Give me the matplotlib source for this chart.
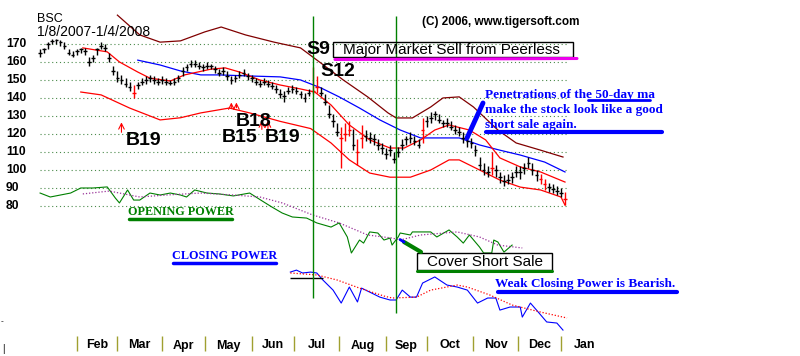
import numpy as np
import pandas as pd
import matplotlib
matplotlib.use("Agg")
import matplotlib.pyplot as plt
from matplotlib.lines import Line2D
from matplotlib.patches import Rectangle
from matplotlib.transforms import blended_transform_factory

ticker = "BSC"
periode = "1/8/2007-1/4/2008"

# Jours ouvres : l'axe x est l'index du jour (0 = 8 janv. 2007)
jours = pd.bdate_range("2007-01-08", "2008-02-29")
t_barres = np.flatnonzero(jours <= "2008-01-04")[::2]  # une barre sur deux jours

mois = ["Feb", "Mar", "Apr", "May", "Jun", "Jul", "Aug", "Sep", "Oct", "Nov", "Dec", "Jan"]
niveaux = [170, 160, 150, 140, 130, 120, 110, 100, 90, 80]

# Barres BSC (haut / bas / cloture)
clotures = [165, 167, 170, 171.5, 172, 171, 169, 165, 164, 166,
            167, 166, 160, 162, 167, 169, 168, 162, 155, 151,
            150, 148, 146, 143, 147, 149, 150, 151, 150, 149,
            150, 149, 148.5, 149, 151, 155, 157, 159, 159, 158,
            157, 158, 157.5, 156, 154, 155, 152, 150, 151, 153,
            154, 152, 151, 149, 148, 149, 148, 146.5, 145, 142,
            141, 144, 145, 144, 142, 140, 143, 144, 146, 143,
            138, 131, 127, 121, 118, 120, 122, 114, 110, 118,
            119, 118, 117, 114, 112, 109, 111, 106, 110, 114,
            117, 118, 116, 114, 122, 127, 129, 131, 128, 126,
            126, 124, 122, 121, 118, 116, 115, 111, 103, 100,
            99, 101, 100, 96, 94, 94.5, 96, 99, 99, 101,
            104, 100, 97, 95, 92, 90.5, 89.5, 88.5, 87, 84]
hauts = [167, 168, 171, 173, 173, 172, 171, 167, 166, 167,
         168, 168, 163, 164, 168, 171, 170, 165, 158, 155,
         153, 151, 149, 147, 149, 151, 152, 153, 152, 151,
         152, 151, 150, 151, 153, 157, 159, 161, 161, 160,
         159, 160, 159, 158, 156, 157, 155, 152, 153, 155,
         156, 154, 153, 151, 150, 151, 150, 149, 147, 145,
         144, 146, 147, 146, 144, 143, 145, 157, 152, 146,
         142, 136, 131, 126, 124, 126, 127, 123, 117, 125,
         122, 121, 120, 117, 115, 112, 114, 110, 113, 117,
         119, 121, 119, 117, 129, 130, 132, 133, 131, 128,
         129, 127, 125, 124, 121, 119, 118, 114, 107, 104,
         102, 110, 103, 99, 97, 98, 99, 102, 102, 104,
         107, 104, 100, 98, 95, 93, 92, 91, 90, 88]
bas = [163, 165, 167, 170, 170, 169, 167, 164, 163, 164,
       165, 164, 158, 160, 164, 167, 166, 160, 153, 149,
       148, 146, 144, 140, 145, 147, 148, 149, 148, 147,
       148, 147, 147, 147, 149, 152, 155, 157, 157, 156,
       155, 156, 156, 154, 152, 153, 150, 148, 149, 151,
       152, 150, 149, 147, 146, 147, 146, 145, 143, 140,
       138, 142, 143, 142, 140, 138, 141, 142, 143, 141,
       136, 129, 124, 119, 101, 116, 119, 111, 103, 112,
       116, 115, 114, 111, 109, 106, 108, 104, 107, 111,
       114, 115, 114, 112, 115, 124, 126, 128, 126, 124,
       124, 122, 120, 119, 115, 113, 112, 108, 100, 97,
       96, 97, 96, 93, 91, 92, 93, 96, 95, 98,
       101, 97, 94, 92, 89, 88, 87, 86, 85, 80.5]
barres_rouges = [23, 67, 68, 74, 75, 76, 78, 79, 94, 111, 123, 124, 129]

# Bande haute (marron), moyenne 21 jours (rouge), bande basse (rouge), moyenne 50 jours (bleu)
bande_haute_t = [38, 49, 59, 69, 81, 89, 101, 115, 128, 138, 149, 161, 171, 175, 183,
                 192, 198, 206, 213, 225, 234, 246, 257]
bande_haute = [186, 175, 171, 171.7, 176.7, 179.4, 175, 171, 167.8, 159.4, 150, 140.6,
               131.7, 128.9, 128.9, 135, 140, 140.6, 135, 122.2, 115, 111, 107.2]
mm21_t = [21, 33, 39, 48, 54, 64, 71, 84, 91, 98, 108, 118, 128, 135, 143, 152, 162,
          172, 179, 187, 194, 201, 211, 219, 226, 236, 246, 258]
mm21 = [167.8, 165.6, 160, 154.4, 151, 149.4, 152.8, 156, 156.7, 154.4, 150, 147.2,
        145, 143.3, 136.1, 125, 116.7, 112.2, 112.2, 116.7, 122.2, 125, 122.2, 116.7,
        106.7, 101.7, 98.9, 93.3]
bande_basse_t = [20, 30, 44, 59, 69, 79, 93, 103, 118, 133, 143, 152, 162, 172, 182,
                 192, 201, 206, 216, 226, 236, 246, 256, 258]
bande_basse = [143.3, 141.7, 134.4, 127.8, 129, 131.7, 134.4, 131.7, 127, 123, 115,
               105.6, 98.3, 96, 96, 100, 105.6, 105.6, 100, 94.4, 90.5, 88.9, 85, 80.5]
mm50_t = [48, 59, 69, 79, 88, 103, 118, 128, 138, 147, 157, 167, 177, 187, 197, 206,
          216, 226, 236, 248, 258]
mm50 = [161, 158.3, 155, 152.8, 152.8, 152.2, 151.7, 150, 145.6, 140.6, 134.4, 127.8,
        122.2, 117.8, 117.8, 117.8, 113.9, 111, 108.3, 104.4, 98.9]

# Opening Power (vert) et sa moyenne (pointilles violets)
op_t = [0, 5, 10, 15, 20, 26, 33, 37, 39, 43, 46, 49, 54, 59, 64, 69, 72, 76, 82, 88,
        95, 103, 110, 114, 119, 124, 131, 136, 143, 147, 151, 153, 157, 159, 162, 166,
        169, 172, 173, 176, 177, 182, 183, 192, 195, 201, 205, 208, 211, 216, 218, 222,
        223, 225, 228, 232]
op = [87.2, 85, 86.1, 87.2, 90, 90, 90.6, 84.4, 81.7, 88.9, 83.3, 83.3, 87.2, 86.1,
      87.2, 86.1, 85, 88.9, 87.2, 86.7, 85.6, 87.2, 82.2, 79.4, 76.1, 73.9, 73.3, 70.6,
      68.3, 70.6, 62.8, 53.9, 61.1, 59.4, 65.6, 65, 61.1, 62.2, 58.3, 62.8, 65, 63.9,
      65.6, 65.6, 62.8, 66.7, 62.8, 59.4, 63.9, 57.2, 53.9, 53.9, 61.1, 60, 54.4, 58.3]
op_mm_t = [21, 34, 49, 62, 79, 95, 108, 119, 134, 147, 161, 173, 177, 187, 205, 216, 225, 237]
op_mm = [86.7, 88.3, 85, 86.1, 87.2, 86.1, 85, 81.7, 75, 70.6, 63.9, 62.2, 61.1, 63.9,
         65.6, 62.8, 58.3, 56.7]

# Closing Power (bleu) et sa moyenne (pointilles rouges)
cp_t = [123, 126, 129, 133, 136, 139, 144, 148, 152, 156, 158, 162, 167, 172, 175, 178,
        182, 185, 188, 194, 200, 205, 210, 215, 220, 224, 226, 231, 236, 237, 241, 244,
        249, 254, 257]
cp = [43.3, 44.4, 42.8, 43.3, 42.8, 38.9, 33.3, 26.1, 35, 26.7, 34.4, 32.2, 29.4, 27.8,
      27.8, 33.3, 29.4, 29.4, 37.2, 40.6, 36.1, 35, 33.3, 26.1, 28.9, 28.9, 22.2, 23.9,
      23.9, 18.3, 26.1, 22.2, 15.6, 15, 11.1]
cp_mm_t = [123, 136, 146, 157, 169, 173, 185, 192, 205, 210, 221, 232, 246, 259]
cp_mm = [42.8, 41.7, 38.9, 34.4, 30, 28.9, 29.4, 33.3, 36.1, 35, 30.6, 25, 21.1, 17.8]

W, H = 800, 356
fig = plt.figure(figsize=(W / 100, H / 100), dpi=100)
ax = fig.add_axes([0, 0, 1, 1])
ax.set_xlim(-19.7, 373.5)
ax.set_ylim(-3.3, 194.4)
ax.axis("off")


def fp(x, y):
    # pixels de l'image -> fraction de la figure
    return x / W, 1 - y / H


def trait(x0, y0, x1, y1, **kw):
    fig.add_artist(Line2D([x0 / W, x1 / W], [1 - y0 / H, 1 - y1 / H],
                          transform=fig.transFigure, solid_capstyle="round", **kw))


sans = "Liberation Sans"
serif = "Liberation Serif"

# Grille pointillee + etiquettes de prix
ax.hlines(niveaux, 0, 259, colors="#4a8a4a", linestyles=(0, (1, 2.5)), lw=0.8)
trans_y = blended_transform_factory(fig.transFigure, ax.transData)
for niv in niveaux:
    ax.text(6 / W, niv, str(niv), transform=trans_y, fontsize=8.7, fontweight="bold",
            family=sans, va="center")

# Courbes
ax.plot(bande_haute_t, bande_haute, color="#800000", lw=0.9)
ax.plot(mm50_t, mm50, color="#0000ff", lw=0.9)
ax.plot(mm21_t, mm21, color="#ff0000", lw=0.9)
ax.plot(bande_basse_t, bande_basse, color="#ff0000", lw=0.9)

# Barres
couleurs = ["#ff0000" if i in barres_rouges else "black" for i in range(len(clotures))]
ax.vlines(t_barres, bas, hauts, colors=couleurs, lw=1.0)
ax.hlines(clotures, t_barres - 0.9, t_barres + 0.9, colors=couleurs, lw=1.0)

# Opening / Closing Power
ax.plot(op_t, op, color="#008000", lw=0.8)
ax.plot(op_mm_t, op_mm, color="#993399", lw=0.9, ls=(0, (1, 1.5)))
ax.plot(cp_t, cp, color="#0000ff", lw=0.8)
ax.plot(cp_mm_t, cp_mm, color="#ff0000", lw=0.9, ls=(0, (1, 1.5)))
ax.hlines([40], 123, 139, colors="black", lw=1)

# Lignes verticales vertes (signaux)
ax.vlines([134], 28.9, 185.6, colors="#008000", lw=1)
ax.vlines([175], 20.6, 185.6, colors="#008000", lw=1)

# Fleches rouges (achats)
for t, p0, p1 in [(40, 119.4, 128), (94, 133, 139), (96.5, 133, 139), (109, 121, 129), (112, 121, 129)]:
    ax.annotate("", xy=(t, p1), xytext=(t, p0),
                arrowprops=dict(arrowstyle="->", color="#ff0000", lw=0.8))

# Axe des mois
debut_mois = [i for i in range(1, len(jours)) if jours[i].month != jours[i - 1].month]
milieux = [(a + b) / 2 for a, b in zip(debut_mois[:-1], debut_mois[1:])]
trans_x = blended_transform_factory(ax.transData, fig.transFigure)
ax.vlines(debut_mois[:-1], 1 - 351 / H, 1 - 336 / H, transform=trans_x, colors="#a0a030", lw=1)
for m, nom in zip(milieux, mois):
    ax.text(m, 1 - 345.5 / H, nom, transform=trans_x, ha="center", va="center",
            fontsize=9, fontweight="bold", family=sans)

# Textes
fig.text(*fp(37, 18.5), ticker, fontsize=9, family=sans, va="center")
fig.text(*fp(37, 31.5), periode, fontsize=10, family=sans, va="center")
fig.text(*fp(422, 22), "(C) 2006, www.tigersoft.com", fontsize=8.5, fontweight="bold",
         family=sans, va="center")

fig.text(*fp(306, 50), "S9", fontsize=14, fontweight="bold", family=sans, va="center")
fig.text(*fp(320, 71), "S12", fontsize=14, fontweight="bold", family=sans, va="center")
fig.add_artist(Rectangle(fp(333, 57), 240 / W, 15 / H, transform=fig.transFigure,
                         fill=False, ec="black", lw=1))
fig.text(*fp(343, 50), "Major Market Sell from Peerless", fontsize=11, family=sans, va="center")
trait(335, 59.5, 577, 58.5, color="#ee00ee", lw=2.2)

fig.text(*fp(126, 140), "B19", fontsize=14, fontweight="bold", family=sans, va="center")
fig.text(*fp(236, 121), "B18", fontsize=14, fontweight="bold", family=sans, va="center")
fig.text(*fp(222, 137.5), "B15", fontsize=14, fontweight="bold", family=sans, va="center")
fig.text(*fp(265, 137.5), "B19", fontsize=14, fontweight="bold", family=sans, va="center")

bleu = "#0000ff"
for y, ligne in [(95, "Penetrations of the 50-day ma"), (110.5, "make the stock look like a good"),
                 (125.5, "short sale again.")]:
    fig.text(*fp(485, y), ligne, fontsize=9.5, fontweight="bold", family=serif, color=bleu, va="center")
trait(588, 100, 650, 100, color=bleu, lw=2)
trait(486, 132, 662, 132, color=bleu, lw=3)
trait(467, 138, 483, 103, color=bleu, lw=3.5)

fig.text(*fp(128, 212), "OPENING POWER", fontsize=8.7, fontweight="bold", family=serif,
         color="#008000", va="center")
trait(129, 219, 232, 219, color="#008000", lw=2.5)
fig.text(*fp(172, 256), "CLOSING POWER", fontsize=8.7, fontweight="bold", family=serif,
         color=bleu, va="center")
trait(173, 263, 276, 263, color=bleu, lw=2.5)

fig.add_artist(Rectangle(fp(417, 270), 135 / W, 17 / H, transform=fig.transFigure,
                         fill=False, ec="black", lw=1))
trait(417, 271, 552, 271, color="#008000", lw=2.2)
fig.text(*fp(427, 262), "Cover Short Sale", fontsize=11, family=sans, va="center")
trait(421, 252, 404, 242, color="#008000", lw=3)
trait(404, 242, 400, 239.5, color=bleu, lw=2)

fig.text(*fp(495, 284), "Weak Closing Power is Bearish.", fontsize=9.5, fontweight="bold",
         family=serif, color=bleu, va="center")
trait(498, 292, 677, 292, color=bleu, lw=3)

fig.text(*fp(1, 322), "-", fontsize=6, family=sans, va="center")
fig.text(*fp(2, 349), "|", fontsize=7, family=sans, va="center")

fig.savefig("out.png", dpi=100)
